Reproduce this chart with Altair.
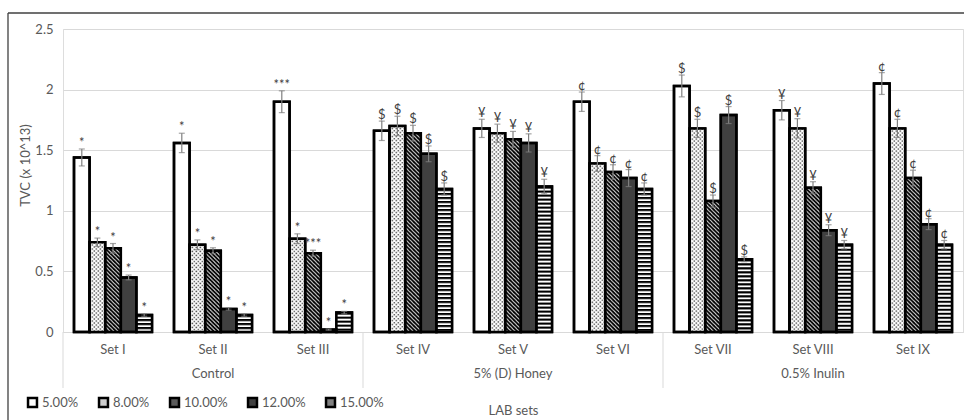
import base64

import altair as alt
import pandas as pd

# ---- data -----------------------------------------------------------------
sets = ["Set I", "Set II", "Set III", "Set IV", "Set V", "Set VI",
        "Set VII", "Set VIII", "Set IX"]
groups = ["Control", "5% (D) Honey", "0.5% Inulin"]
group_first = ["Set I", "Set IV", "Set VII"]
group_mid = ["Set II", "Set V", "Set VIII"]
series = ["5.00%", "8.00%", "10.00%", "12.00%", "15.00%"]

tvc_5 = [1.44, 1.56, 1.90, 1.66, 1.68, 1.90, 2.03, 1.83, 2.05]
tvc_8 = [0.74, 0.72, 0.77, 1.70, 1.64, 1.39, 1.68, 1.68, 1.68]
tvc_10 = [0.69, 0.67, 0.65, 1.64, 1.59, 1.32, 1.08, 1.19, 1.27]
tvc_12 = [0.45, 0.19, 0.02, 1.47, 1.56, 1.27, 1.79, 0.84, 0.89]
tvc_15 = [0.14, 0.14, 0.16, 1.18, 1.20, 1.18, 0.60, 0.72, 0.72]

err_5 = [0.07, 0.08, 0.09, 0.08, 0.075, 0.08, 0.09, 0.08, 0.09]
err_8 = [0.035, 0.04, 0.04, 0.08, 0.075, 0.065, 0.075, 0.08, 0.075]
err_10 = [0.04, 0.025, 0.025, 0.065, 0.065, 0.06, 0.05, 0.05, 0.065]
err_12 = [0.02, 0.01, 0.005, 0.065, 0.075, 0.07, 0.07, 0.045, 0.045]
err_15 = [0.01, 0.01, 0.01, 0.05, 0.06, 0.05, 0.02, 0.035, 0.035]

sig_5 = ["*", "*", "***", "$", "¥", "¢", "$", "¥", "¢"]
sig_8 = ["*", "*", "*", "$", "¥", "¢", "$", "¥", "¢"]
sig_10 = ["*", "*", "***", "$", "¥", "¢", "$", "¥", "¢"]
sig_12 = ["*", "*", "*", "$", "¥", "¢", "$", "¥", "¢"]
sig_15 = ["*", "*", "*", "$", "¥", "¢", "$", "¥", "¢"]

values = [tvc_5, tvc_8, tvc_10, tvc_12, tvc_15]
errors = [err_5, err_8, err_10, err_12, err_15]
sigs = [sig_5, sig_8, sig_10, sig_12, sig_15]

rows = []
for s, vals, errs, sg in zip(series, values, errors, sigs):
    for st, v, e, m in zip(sets, vals, errs, sg):
        rows.append({"set": st, "series": s, "tvc": v,
                     "lo": v - e, "hi": v + e, "sig": m})
df = pd.DataFrame(rows)

# ---- styling --------------------------------------------------------------
FONT = "Lato"
TEXT = "#595959"
GRID = "#d9d9d9"
W, H = 900, 303


def svg_uri(tile, size):
    svg = ('<svg xmlns="http://www.w3.org/2000/svg" width="100%" height="100%">'
           '<defs><pattern id="p" x="0" y="0" width="{0}" height="{0}" '
           'patternUnits="userSpaceOnUse">{1}</pattern></defs>'
           '<rect width="100%" height="100%" fill="url(#p)"/></svg>').format(size, tile)
    return "data:image/svg+xml;base64," + base64.b64encode(svg.encode()).decode()


dots = svg_uri('<rect width="4" height="4" fill="#ffffff"/>'
               '<rect width="1.4" height="1.4" fill="#444444"/>'
               '<rect x="2" y="2" width="1.4" height="1.4" fill="#444444"/>', 4)
diag = svg_uri('<rect width="4" height="4" fill="#ffffff"/>'
               '<path d="M0,0 L4,4 M-1,3 L1,5 M3,-1 L5,1" stroke="#000000" '
               'stroke-width="1.9"/>', 4)
horiz = svg_uri('<rect width="4" height="4" fill="#ffffff"/>'
                '<rect width="4" height="2.1" fill="#000000"/>', 4)
patterns = {"8.00%": dots, "10.00%": diag, "15.00%": horiz}

fallback = ["#ffffff", "#cccccc", "#5a5a5a", "#404040", "#808080"]

x_scale = alt.Scale(domain=sets, paddingInner=0, paddingOuter=0)
off_scale = alt.Scale(domain=series, paddingInner=0, paddingOuter=0.705)
y_scale = alt.Scale(domain=[0, 2.5], nice=False)

x_axis = alt.Axis(labelAngle=0, labelFont=FONT, labelFontSize=13, labelColor=TEXT,
                  labelPadding=11, ticks=False, domainColor=GRID, domainWidth=1,
                  grid=False, titleFont=FONT, titleFontSize=13, titleColor=TEXT,
                  titleFontWeight="normal", titleY=78, titleBaseline="middle")
y_axis = alt.Axis(values=[0, 0.5, 1, 1.5, 2, 2.5], format="~g", domain=False,
                  ticks=False, grid=True, gridColor=GRID, gridWidth=1,
                  labelFont=FONT, labelFontSize=13, labelColor=TEXT, labelPadding=10,
                  titleFont=FONT, titleFontSize=13, titleColor=TEXT,
                  titleFontWeight="normal", titleX=-38, titleY=136,
                  titleBaseline="middle")


def xe(**kw):
    return alt.X("set:N", scale=x_scale, sort=sets, title="LAB sets", axis=x_axis, **kw)


def ye(field):
    return alt.Y(field, scale=y_scale, title="TVC (x 10^13)", axis=y_axis)


x_off = alt.XOffset("series:N", scale=off_scale, sort=series)

# solid bars (also feed the legend)
bars = alt.Chart(df).mark_bar(stroke="black", strokeWidth=2.5).encode(
    x=xe(), xOffset=x_off, y=ye("tvc:Q"),
    fill=alt.Fill("series:N", sort=series,
                  scale=alt.Scale(domain=series, range=fallback),
                  legend=alt.Legend(orient="none", legendX=-37, legendY=367,
                                    direction="horizontal", columns=5, title=None,
                                    symbolType="square", symbolSize=80,
                                    symbolStrokeColor="black", symbolStrokeWidth=2.5,
                                    labelFont=FONT, labelFontSize=13, labelColor=TEXT,
                                    labelOffset=3, columnPadding=15)))

# hatch fills drawn over the solid bars
hatch_layers = []
for s, uri in patterns.items():
    hatch_layers.append(
        alt.Chart(df).transform_filter(alt.datum.series == s)
        .mark_image(aspect=False)
        .encode(x=xe(), xOffset=x_off, y=ye("tvc:Q"),
                y2=alt.datum(0), url=alt.value(uri)))

outline = alt.Chart(df).mark_bar(filled=False, color="black", strokeWidth=2.5).encode(
    x=xe(), xOffset=x_off, y=ye("tvc:Q"))

ERR = "#7f7f7f"
err_rule = alt.Chart(df).mark_rule(color=ERR, strokeWidth=1.2).encode(
    x=xe(), xOffset=x_off, y=ye("lo:Q"), y2="hi:Q")
cap_hi = alt.Chart(df).mark_tick(color=ERR, thickness=1.2, size=6,
                                 orient="horizontal").encode(
    x=xe(), xOffset=x_off, y=ye("hi:Q"))
cap_lo = alt.Chart(df).mark_tick(color=ERR, thickness=1.2, size=6,
                                 orient="horizontal").encode(
    x=xe(), xOffset=x_off, y=ye("lo:Q"))

sig_text = alt.Chart(df).mark_text(font=FONT, fontSize=13, color="#404040",
                                   baseline="alphabetic", dy=-2).encode(
    x=xe(), xOffset=x_off, y=ye("hi:Q"), text="sig:N")

# two-level category axis: group separators and group names
sep = alt.Chart(pd.DataFrame({"set": group_first})).mark_rule(
    color=GRID, strokeWidth=1).encode(
    x=xe(bandPosition=0), y=alt.datum(0), y2=alt.value(H + 56))
grp = alt.Chart(pd.DataFrame({"set": group_mid, "group": groups})).mark_text(
    font=FONT, fontSize=13, color=TEXT, baseline="middle").encode(
    x=xe(), y=alt.value(H + 42), text="group:N")

# outer frame edges
one = pd.DataFrame({"k": [0]})
frame_top = alt.Chart(one).mark_rule(color="#404040", strokeWidth=1.3).encode(
    x=alt.value(-55), x2=alt.value(W + 1), y=alt.value(-16))
frame_left = alt.Chart(one).mark_rule(color="#404040", strokeWidth=1.3).encode(
    x=alt.value(-55), y=alt.value(-16), y2=alt.value(H + 90))

chart = alt.layer(
    bars, *hatch_layers, outline, err_rule, cap_hi, cap_lo, sig_text,
    sep, grp, frame_top, frame_left,
).properties(
    width=W, height=H,
    autosize=alt.AutoSizeParams(type="none"),
    padding={"left": 63, "top": 29, "right": 1, "bottom": 88},
).configure_view(stroke=None).configure(background="white")

chart.save("out.html", embed_options={"renderer": "svg", "actions": False})
